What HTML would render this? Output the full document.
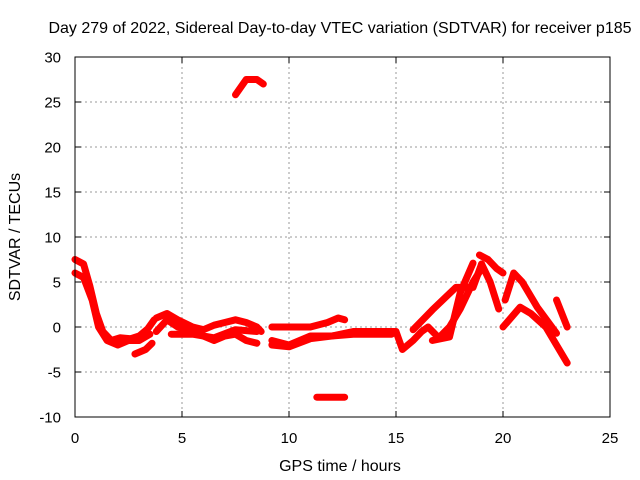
<!DOCTYPE html>
<html><head><meta charset="utf-8"><style>
body{margin:0;background:#fff}
svg{display:block;font-family:"Liberation Sans",sans-serif}
</style></head><body>
<svg id="c" width="640" height="480">
<rect width="640" height="480" fill="#fff"/>
<text x="340" y="33" font-size="16" text-anchor="middle">Day 279 of 2022, Sidereal Day-to-day VTEC variation (SDTVAR) for receiver p185</text>
<text x="340" y="471" font-size="16" text-anchor="middle">GPS time / hours</text>
<text transform="translate(20,237) rotate(-90)" font-size="16" text-anchor="middle">SDTVAR / TECUs</text>
<g id="grid"></g><g id="marks"></g>
<rect x="75" y="57" width="535" height="360" fill="none" stroke="#000"/>
</svg>
<script>
const xTicks=[0,5,10,15,20,25];
const yTicks=[-10,-5,0,5,10,15,20,25,30];
const t1a=[[0,7.5],[0.4,7],[0.7,4.5],[1,1.5],[1.3,-0.5],[1.7,-1.5],[2.1,-1.2],[2.6,-1.3],[3,-1],[3.4,-0.2],[3.7,0.8]];
const t1b=[[0,6],[0.4,5.5],[0.8,3],[1.1,0],[1.5,-1.5],[2,-2],[2.5,-1.5],[3,-1.5],[3.5,-0.8]];
const t2=[[2.8,-3],[3.3,-2.5],[3.6,-1.8]];
const t3=[[3.8,1],[4.3,1.5],[4.8,0.8],[5.5,0],[6,-0.3],[6.5,0.2],[7,0.5],[7.5,0.8],[8,0.5],[8.5,0],[8.7,-0.5]];
const t4=[[3.8,-0.5],[4.3,0.8],[4.8,0],[5.5,-0.5],[6,-1],[6.5,-1.5],[7,-1],[7.5,-0.8],[8,-1.5],[8.5,-1.8]];
const t5=[[4.5,-0.8],[5.5,-0.8],[6.5,-1.2],[7.5,-0.3],[8.5,-0.5]];
const t6=[[9.2,0],[10,0],[11,0],[11.8,0.5],[12.3,1],[12.6,0.8]];
const t7=[[9.2,-1.5],[10,-2],[10.5,-1.5],[11,-1],[12,-1],[13,-0.5],[14,-0.5],[15,-0.5],[15.3,-2.5],[15.8,-1.5],[16.2,-0.5],[16.5,0],[17,-1.2],[17.5,0],[18,2],[18.3,3.5],[18.6,5],[19,6.5]];
const t8=[[9.2,-2],[10,-2.2],[11,-1.3],[12,-1],[13,-0.8],[14,-0.8],[14.8,-0.8]];
const t9=[[15.8,-0.3],[16.7,1.9],[17.8,4.4],[18.6,4.4],[19,7]];
const t10=[[16.7,-1.5],[17.5,-1.1],[18,3.8],[18.6,7.1]];
const t11=[[18.9,8],[19.3,7.5],[19.7,6.5],[20,6]];
const t12=[[19,7],[19.4,5],[19.8,2]];
const t13=[[20,0],[20.8,2.2],[21.3,1.5],[22,0],[23,-4]];
const t14=[[20.1,3],[20.5,6],[20.9,5],[21.6,2.2],[22.5,-0.7]];
const t15=[[22.5,3],[23,0]];
const t16=[[7.5,25.8],[8,27.5],[8.5,27.5],[8.8,27]];
const t17=[[11.3,-7.8],[12.6,-7.8]];
const traces=[t1a,t1b,t2,t3,t4,t5,t6,t7,t8,t9,t10,t11,t12,t13,t14,t15,t16,t17];
const X=h=>75+h*535/25, Y=v=>327-v*9;
const NS="http://www.w3.org/2000/svg";
const grid=document.getElementById('grid'), marks=document.getElementById('marks');
function mk(p,tag,a){const e=document.createElementNS(NS,tag);for(const k in a)e.setAttribute(k,a[k]);p.appendChild(e);return e;}
xTicks.forEach(t=>{
  if(t>0&&t<25){const l=mk(grid,'line',{x1:X(t),x2:X(t),y1:57,y2:417,stroke:'#999','stroke-dasharray':'2,3'});
  
  }
  const k=mk(grid,'path',{d:`M${X(t)},417v-6M${X(t)},57v6`,stroke:'#000'});
  
  
  const tx=mk(grid,'text',{x:X(t),y:443,'font-size':15,'text-anchor':'middle'});tx.textContent=t;
  
  
});
yTicks.forEach(t=>{
  if(t>-10&&t<30){const l=mk(grid,'line',{x1:75,x2:610,y1:Y(t),y2:Y(t),stroke:'#999','stroke-dasharray':'2,3'});
  
  }
  const k=mk(grid,'path',{d:`M75,${Y(t)}h6M610,${Y(t)}h-6`,stroke:'#000'});
  
  
  const tx=mk(grid,'text',{x:61,y:Y(t)+5.5,'font-size':15,'text-anchor':'end'});tx.textContent=t;
  
  
});
traces.forEach(tr=>{
  const p=mk(marks,'polyline',{points:tr.map(d=>X(d[0])+','+Y(d[1])).join(' '),fill:'none',stroke:'#f00','stroke-width':7,'stroke-linejoin':'round','stroke-linecap':'round'});
  
  
});
</script>
</body></html>
